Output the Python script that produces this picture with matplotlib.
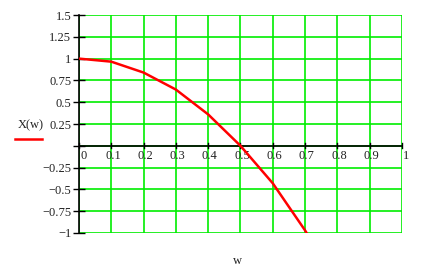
import matplotlib
matplotlib.use("Agg")
from matplotlib import pyplot as plt
import numpy as np

# data
w = [0.0, 0.1, 0.2, 0.3, 0.4, 0.5, 0.6, 0.7, 0.8]
X = [1.0, 0.965, 0.84, 0.645, 0.36, 0.0, -0.43, -0.97, -1.6]

x_ticks = [0, 0.1, 0.2, 0.3, 0.4, 0.5, 0.6, 0.7, 0.8, 0.9, 1]
x_labels = ["0", "0.1", "0.2", "0.3", "0.4", "0.5", "0.6", "0.7", "0.8", "0.9", "1"]
y_ticks = [1.5, 1.25, 1, 0.75, 0.5, 0.25, 0, -0.25, -0.5, -0.75, -1]
y_labels = ["1.5", "1.25", "1", "0.75", "0.5", "0.25", "", "\u22120.25", "\u22120.5", "\u22120.75", "\u22121"]

plt.rcParams['font.family'] = ['Liberation Serif', 'DejaVu Serif']
plt.rcParams['font.size'] = 9

fig = plt.figure(figsize=(4.21, 2.68), dpi=100)
ax = fig.add_axes([0.1876, 0.1306, 0.7672, 0.8134])

green = "#00ee00"
txt = "#222222"
ax.set_xlim(0, 1)
ax.set_ylim(-1, 1.5)

# grid
for xv in x_ticks:
    ax.axvline(xv, color=green, lw=1.2, zorder=1)
for yv in y_ticks:
    ax.axhline(yv, color=green, lw=1.2, zorder=1)

# zero line (black) with its ticks and labels
ax.axhline(0, color="black", lw=1.2, zorder=2)
for xv, lab in zip(x_ticks, x_labels):
    ax.plot([xv, xv], [-0.03, 0.03], color="black", lw=1, zorder=2, clip_on=False)
    if xv == 0 or xv == 1:
        ha = "left"
    else:
        ha = "center"
    ax.text(xv + (0.004 if ha == "left" else 0.005), -0.05, lab, ha=ha, va="top",
            color=txt, zorder=3)

ax.plot(w, X, color="red", lw=1.8, zorder=4)

for s in ["top", "right", "bottom"]:
    ax.spines[s].set_visible(False)
ax.spines["left"].set_color("black")
ax.spines["left"].set_linewidth(1.2)
ax.spines["left"].set_zorder(3)

ax.set_xticks([])
ax.set_yticks(y_ticks)
ax.set_yticklabels(y_labels, color=txt)
ax.tick_params(axis="y", direction="inout", length=9, width=1, pad=1)

# axis name at bottom
fig.text(0.565, 0.025, "w", ha="center", va="center", color=txt)

# legend label at left
fig.text(0.043, 0.533, "X(w)", ha="left", va="center", color=txt)
fig.lines.append(plt.Line2D([0.036, 0.1], [0.481, 0.481], color="red", lw=1.8,
                            transform=fig.transFigure))

plt.savefig("out.png", dpi=100)
